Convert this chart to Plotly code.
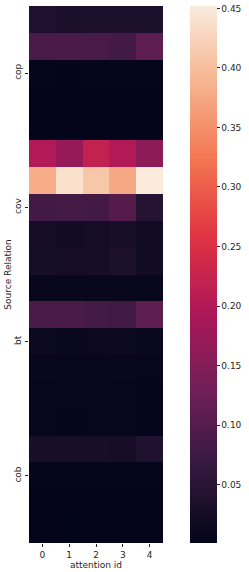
import plotly.graph_objects as go

attention_ids = [0, 1, 2, 3, 4]
row_index = list(range(20))
tick_rows = [2, 7, 12, 17]
tick_labels = ["cop", "cov", "bt", "cob"]

att_0 = [0.036, 0.090, 0.003, 0.002, 0.002, 0.200, 0.380, 0.080, 0.025, 0.026, 0.008, 0.090, 0.012, 0.006, 0.005, 0.005, 0.030, 0.003, 0.002, 0.002]
att_1 = [0.033, 0.090, 0.002, 0.002, 0.002, 0.170, 0.440, 0.082, 0.020, 0.025, 0.007, 0.090, 0.010, 0.005, 0.005, 0.004, 0.030, 0.003, 0.002, 0.001]
att_2 = [0.035, 0.085, 0.003, 0.002, 0.002, 0.220, 0.410, 0.080, 0.025, 0.027, 0.008, 0.082, 0.012, 0.005, 0.005, 0.005, 0.030, 0.003, 0.002, 0.002]
att_3 = [0.035, 0.080, 0.003, 0.002, 0.002, 0.200, 0.375, 0.100, 0.030, 0.035, 0.008, 0.078, 0.012, 0.006, 0.005, 0.005, 0.028, 0.003, 0.002, 0.002]
att_4 = [0.035, 0.110, 0.003, 0.002, 0.002, 0.160, 0.452, 0.045, 0.020, 0.020, 0.005, 0.110, 0.010, 0.005, 0.004, 0.004, 0.040, 0.003, 0.002, 0.002]

z = [[att_0[r], att_1[r], att_2[r], att_3[r], att_4[r]] for r in row_index]

rocket = [
    [0.0, "#03051a"],
    [0.143, "#35193e"],
    [0.286, "#701f57"],
    [0.429, "#ad1759"],
    [0.571, "#e13342"],
    [0.714, "#f37651"],
    [0.857, "#f6b48f"],
    [1.0, "#faebdd"],
]

font = dict(family="DejaVu Sans", size=9, color="#262626")

fig = go.Figure(go.Heatmap(
    z=z, x=attention_ids, y=row_index,
    colorscale=rocket,
    colorbar=dict(
        x=(190 - 29) / 134, xanchor="left", xpad=0,
        y=0.5, yanchor="middle", len=1, lenmode="fraction", ypad=0,
        thickness=27, outlinewidth=0,
        tickvals=[0.05, 0.10, 0.15, 0.20, 0.25, 0.30, 0.35, 0.40, 0.45],
        ticktext=["0.05", "0.10", "0.15", "0.20", "0.25", "0.30", "0.35", "0.40", "0.45"],
        ticks="outside", ticklen=3, tickcolor="#262626", tickfont=font,
    ),
))

fig.update_layout(
    width=249, height=572,
    margin=dict(l=29, r=86, t=6, b=29, autoexpand=False),
    paper_bgcolor="white", plot_bgcolor="white",
    font=font,
)
fig.update_xaxes(
    title=dict(text="attention id", font=font, standoff=0),
    tickvals=attention_ids, ticks="outside", ticklen=3, tickcolor="#262626",
    showgrid=False, zeroline=False, showline=False, automargin=False,
)
fig.update_yaxes(
    title=dict(text="Source Relation", font=font, standoff=0),
    tickvals=tick_rows, ticktext=tick_labels, tickangle=-90,
    ticks="outside", ticklen=3, tickcolor="#262626",
    autorange="reversed", showgrid=False, zeroline=False, showline=False, automargin=False,
)

fig.write_html(
    "out.html",
    config={"displayModeBar": False},
    post_script="document.body.style.margin='0';document.body.style.overflow='hidden';",
)
